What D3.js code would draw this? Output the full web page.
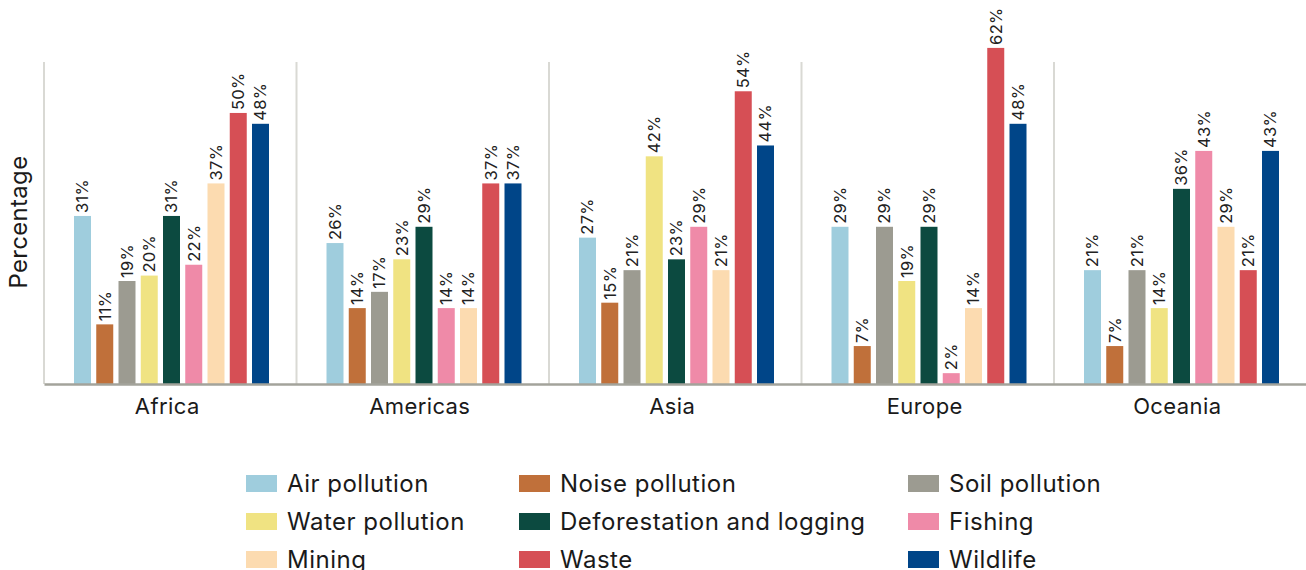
<!DOCTYPE html>
<html><head><meta charset="utf-8">
<script src="https://cdn.jsdelivr.net/npm/d3@7"></script>
<style>
html,body{margin:0;padding:0;background:#fff;}
svg{display:block;font-family:Inter, "Noto Sans", sans-serif;}
</style></head>
<body>
<svg id="chart" width="1306" height="570"></svg>
<script>
const regions = ["Africa","Americas","Asia","Europe","Oceania"];
const seriesNames = ["Air pollution","Noise pollution","Soil pollution","Water pollution","Deforestation and logging","Fishing","Mining","Waste","Wildlife"];
const seriesColors = ["#9fcddd","#c0703a","#9c9b91","#f0e382","#0c4a40","#ef8aa8","#fcdbb0","#d64f55","#004588"];
const airPollution   = [31,26,27,29,21];
const noisePollution = [11,14,15,7,7];
const soilPollution  = [19,17,21,29,21];
const waterPollution = [20,23,42,19,14];
const deforestation  = [31,29,23,29,36];
const fishing        = [22,14,29,2,43];
const mining         = [37,14,21,14,29];
const waste          = [50,37,54,62,21];
const wildlife       = [48,37,44,48,43];
const seriesValues = [airPollution,noisePollution,soilPollution,waterPollution,deforestation,fishing,mining,waste,wildlife];
const yAxisTitle = "Percentage";
const yMax = 59.4;

(function(){
const svg = d3.select("#chart");
const left = 44, right = 1306.5, base = 384, plotTop = 62;

const x0 = d3.scaleBand().domain(regions).range([left, right]).padding(0);
const x1 = d3.scaleBand().domain(seriesNames).range([30, 225]).paddingInner(0.236).paddingOuter(0);
const y = d3.scaleLinear().domain([0, yMax]).range([base, plotTop]);

svg.append("g").selectAll("line").data(regions).join("line")
  .attr("x1", d => x0(d)).attr("x2", d => x0(d))
  .attr("y1", y(yMax)).attr("y2", base)
  .attr("stroke", "#d9d9d4").attr("stroke-width", 2);

const groups = svg.append("g").selectAll("g").data(regions).join("g")
  .attr("transform", d => `translate(${x0(d)},0)`);

groups.each(function(region, ri){
  const g = d3.select(this);
  const rows = seriesNames.map((s, si) => ({s, si, v: seriesValues[si][ri]}));
  g.selectAll("rect").data(rows).join("rect")
    .attr("x", d => x1(d.s)).attr("width", x1.bandwidth())
    .attr("y", d => y(d.v)).attr("height", d => base - y(d.v))
    .attr("fill", d => seriesColors[d.si]);
  g.selectAll("text").data(rows).join("text")
    .attr("transform", d => `translate(${x1(d.s) + x1.bandwidth()/2},${y(d.v) - 3}) rotate(-90)`)
    .attr("dy", "0.36em")
    .attr("font-size", 16.5)
    .attr("letter-spacing", 0.3)
    .attr("fill", "#222")
    .text(d => d3.format("d")(d.v) + "%");
});

const xAxis = d3.axisBottom(x0).tickSize(0).tickPadding(0);
const ax = svg.append("g").attr("transform", `translate(0,${base})`).call(xAxis);
ax.select(".domain").attr("stroke", "#a3a39b").attr("stroke-width", 2.5);
ax.selectAll(".tick text").attr("font-size", 22).attr("letter-spacing", 0.4).attr("fill", "#1a1a1a")
  .attr("font-family", "Inter, sans-serif").attr("dy", 0).attr("y", 30).attr("dx", -3);

svg.append("text")
  .attr("transform", `translate(27,222) rotate(-90)`)
  .attr("text-anchor", "middle")
  .attr("font-size", 24).attr("letter-spacing", 0.3).attr("fill", "#1a1a1a")
  .text(yAxisTitle);

const colX = [246, 519, 908];
const rowY = [475, 513, 551];
const leg = svg.append("g").selectAll("g").data(seriesNames).join("g")
  .attr("transform", (d,i) => `translate(${colX[i%3]},${rowY[Math.floor(i/3)]})`);
leg.append("rect").attr("width", 31).attr("height", 17).attr("fill", (d,i) => seriesColors[i]);
leg.append("text").attr("x", 41).attr("y", 17).attr("font-size", 24).attr("letter-spacing", 0.5)
  .attr("fill", "#1a1a1a").text(d => d);
})();
</script>
</body></html>
